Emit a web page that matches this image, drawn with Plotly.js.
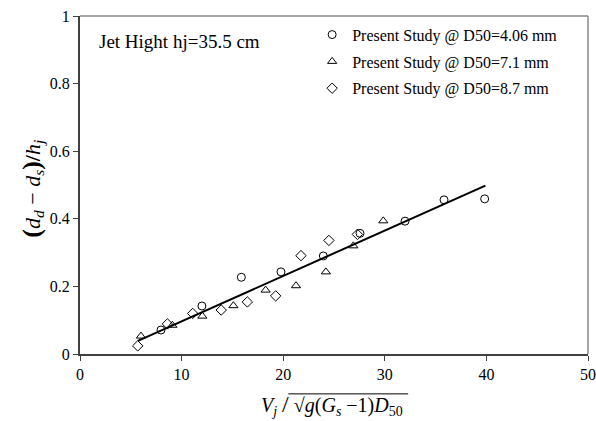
<!DOCTYPE html>
<html>
<head>
<meta charset="utf-8">
<script src="https://cdn.plot.ly/plotly-3.0.1.min.js"></script>
<style>html,body{margin:0;padding:0;background:#fff;}#chart{width:596px;height:421px;}</style>
</head>
<body>
<div id="chart"></div>
<script>
// Series: D50 = 4.06 mm (circles)
const x406 = [7.97, 12.0, 15.88, 19.78, 23.95, 27.56, 31.99, 35.83, 39.83];
const y406 = [0.071, 0.142, 0.227, 0.243, 0.290, 0.357, 0.393, 0.456, 0.459];
// Series: D50 = 7.1 mm (triangles)
const x71 = [6.0, 9.09, 12.04, 15.1, 18.27, 21.26, 24.2, 26.9, 29.85];
const y71 = [0.053, 0.085, 0.112, 0.143, 0.189, 0.202, 0.243, 0.320, 0.394];
// Series: D50 = 8.7 mm (diamonds)
const x87 = [5.68, 8.6, 11.09, 13.9, 16.47, 19.26, 21.75, 24.5, 27.3];
const y87 = [0.024, 0.089, 0.120, 0.130, 0.154, 0.172, 0.291, 0.336, 0.354];
// Fitted line end points
const xFit = [5.7, 39.9];
const yFit = [0.039, 0.498];

const names = ["Present Study @ D50=4.06 mm", "Present Study @ D50=7.1 mm", "Present Study @ D50=8.7 mm"];
const FONT = "Liberation Serif";

function mk(sym) {
  return {symbol: sym, size: 8, color: "#000", line: {color: "#000", width: 1}};
}
const traces = [
  {x: xFit, y: yFit, mode: "lines", line: {color: "#000", width: 2}, showlegend: false, hoverinfo: "skip"},
  {x: x406, y: y406, mode: "markers", name: names[0], legendgroup: "a", marker: mk("circle-open")},
  {x: x71, y: y71, mode: "markers", name: names[1], legendgroup: "b", marker: mk("triangle-up-open")},
  {x: x87, y: y87, mode: "markers", name: names[2], legendgroup: "c", marker: mk("diamond-open")}
];

const layout = {
  width: 596, height: 421,
  margin: {l: 80, r: 8, t: 16, b: 67},
  paper_bgcolor: "#fff", plot_bgcolor: "#fff",
  font: {family: FONT, size: 16, color: "#000"},
  showlegend: true,
  legend: {x: 0.457, y: 0.995, xanchor: "left", yanchor: "top", bgcolor: "rgba(0,0,0,0)",
           tracegroupgap: 3, font: {family: FONT, size: 16, color: "#000"}},
  xaxis: {range: [0, 50], dtick: 10, tick0: 0, ticks: "outside", ticklen: 5, tickcolor: "#404040",
          showline: true, linecolor: "#404040", linewidth: 2, showgrid: false, zeroline: false,
          tickfont: {family: FONT, size: 16, color: "#000"}},
  yaxis: {range: [0, 1], dtick: 0.2, tick0: 0, ticks: "outside", ticklen: 5, tickcolor: "#404040",
          showline: true, linecolor: "#404040", linewidth: 2, showgrid: false, zeroline: false,
          tickfont: {family: FONT, size: 16, color: "#000"}},
  shapes: [
    {type: "line", xref: "paper", yref: "paper", x0: 0, x1: 1, y0: 1, y1: 1, line: {color: "#888", width: 1.5}},
    {type: "line", xref: "paper", yref: "paper", x0: 1, x1: 1, y0: 0, y1: 1, line: {color: "#888", width: 1.5}},
    // overline of the square root in x title
    {type: "line", xref: "paper", yref: "paper", x0: 0.41, x1: 0.646, y0: -0.118, y1: -0.118, line: {color: "#000", width: 1}}
  ],
  annotations: [
    {text: "Jet Hight hj=35.5 cm", xref: "paper", yref: "paper", x: 0.033, y: 0.926, xanchor: "left", yanchor: "middle",
     showarrow: false, font: {family: FONT, size: 19, color: "#000"}},
    {text: "<i>V</i><sub><i>j</i></sub> <span style='font-size:24px'>/</span> √<i>g</i>(<i>G</i><sub><i>s</i></sub> −1)<i>D</i><sub>50</sub>",
     xref: "paper", yref: "paper", x: 0.497, y: -0.15, xanchor: "center", yanchor: "middle",
     showarrow: false, font: {family: FONT, size: 20, color: "#000"}},
    {text: "<span style='font-size:26px'><b>(</b></span><i>d</i><sub><i>d</i></sub> − <i>d</i><sub><i>s</i></sub><span style='font-size:26px'><b>)</b></span><b>/</b><i>h</i><sub><i>j</i></sub>",
     xref: "paper", yref: "paper", x: -0.094, y: 0.49, xanchor: "center", yanchor: "middle", textangle: -90,
     showarrow: false, font: {family: FONT, size: 22, color: "#000"}}
  ]
};

Plotly.newPlot("chart", traces, layout, {displayModeBar: false, staticPlot: true});
</script>
</body>
</html>
